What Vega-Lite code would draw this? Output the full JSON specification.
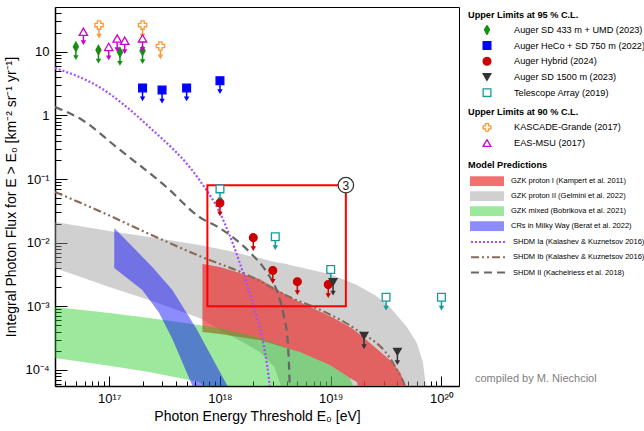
{
 "$schema": "https://vega.github.io/schema/vega-lite/v6.json",
 "width": 404, "height": 379,
 "autosize": {"type": "none"},
 "padding": {"left": 55, "top": 7, "right": 185, "bottom": 45},
 "background": "white",
 "title": {"text": "compiled by M. Niechciol", "orient": "bottom", "anchor": "start", "frame": "group", "dx": 420, "dy": -54, "font": "Liberation Sans", "fontSize": 11, "fontWeight": "normal", "color": "#808080"},
 "config": {
  "view": {"stroke": "black", "strokeWidth": 1},
  "font": "Liberation Sans",
  "axis": {"domainColor": "black", "domainWidth": 1.5, "tickColor": "black", "tickWidth": 1, "labelFont": "Liberation Sans", "labelFontSize": 13, "labelColor": "black", "titleFont": "Liberation Sans", "titleFontSize": 14, "titleFontWeight": "normal", "titleColor": "black", "grid": false, "labelOverlap": false, "labelFlush": false, "labelBound": false},
  "legend": {"orient": "none", "padding": 0, "titleFont": "Liberation Sans", "titleFontSize": 9.2, "titleFontWeight": "bold", "titleColor": "black", "labelFont": "Liberation Sans", "labelFontSize": 9.2, "labelColor": "black", "labelLimit": 300, "titleLimit": 300}
 },
 "datasets": {
  "bands": [
   {"model": "GZK proton II (Gelmini et al. 2022)", "E": 3.24e16, "hi": 0.0211, "lo": 0.004},
   {"model": "GZK proton II (Gelmini et al. 2022)", "E": 1e17, "hi": 0.01524, "lo": 0.00201},
   {"model": "GZK proton II (Gelmini et al. 2022)", "E": 2.3e17, "hi": 0.01227, "lo": 0.00126},
   {"model": "GZK proton II (Gelmini et al. 2022)", "E": 6.52e17, "hi": 0.0092, "lo": 0.000656},
   {"model": "GZK proton II (Gelmini et al. 2022)", "E": 1.22e18, "hi": 0.00741, "lo": 0.000355},
   {"model": "GZK proton II (Gelmini et al. 2022)", "E": 1.85e18, "hi": 0.00618, "lo": 0.000238},
   {"model": "GZK proton II (Gelmini et al. 2022)", "E": 2.28e18, "hi": 0.00574, "lo": 0.000192},
   {"model": "GZK proton II (Gelmini et al. 2022)", "E": 3.11e18, "hi": 0.00497, "lo": 0.000111},
   {"model": "GZK proton II (Gelmini et al. 2022)", "E": 4.0e18, "hi": 0.00462, "lo": 0.00003},
   {"model": "GZK proton II (Gelmini et al. 2022)", "E": 4.26e18, "hi": 0.00446, "lo": 0.00001},
   {"model": "GZK proton II (Gelmini et al. 2022)", "E": 9.8e18, "hi": 0.00322, "lo": 0.00001},
   {"model": "GZK proton II (Gelmini et al. 2022)", "E": 1.72e19, "hi": 0.00216, "lo": 0.00001},
   {"model": "GZK proton II (Gelmini et al. 2022)", "E": 2.5e19, "hi": 0.00151, "lo": 0.00001},
   {"model": "GZK proton II (Gelmini et al. 2022)", "E": 3.42e19, "hi": 0.00098, "lo": 0.00001},
   {"model": "GZK proton II (Gelmini et al. 2022)", "E": 4.87e19, "hi": 0.000473, "lo": 0.00001},
   {"model": "GZK proton II (Gelmini et al. 2022)", "E": 6.0e19, "hi": 0.000265, "lo": 0.00001},
   {"model": "GZK proton II (Gelmini et al. 2022)", "E": 6.8e19, "hi": 0.000134, "lo": 0.00001},
   {"model": "GZK proton II (Gelmini et al. 2022)", "E": 7.55e19, "hi": 0.00003, "lo": 0.00001},
   {"model": "GZK proton I (Kampert et al. 2011)", "E": 6.95e17, "hi": 0.00462, "lo": 0.000395},
   {"model": "GZK proton I (Kampert et al. 2011)", "E": 1e18, "hi": 0.00415, "lo": 0.000367},
   {"model": "GZK proton I (Kampert et al. 2011)", "E": 2.28e18, "hi": 0.00269, "lo": 0.000296},
   {"model": "GZK proton I (Kampert et al. 2011)", "E": 4.26e18, "hi": 0.0014, "lo": 0.000214},
   {"model": "GZK proton I (Kampert et al. 2011)", "E": 5.24e18, "hi": 0.00117, "lo": 0.000192},
   {"model": "GZK proton I (Kampert et al. 2011)", "E": 9.8e18, "hi": 0.000705, "lo": 0.00012},
   {"model": "GZK proton I (Kampert et al. 2011)", "E": 1.49e19, "hi": 0.000473, "lo": 0.0000748},
   {"model": "GZK proton I (Kampert et al. 2011)", "E": 1.72e19, "hi": 0.000395, "lo": 0.0000647},
   {"model": "GZK proton I (Kampert et al. 2011)", "E": 1.91e19, "hi": 0.000342, "lo": 0.00003},
   {"model": "GZK proton I (Kampert et al. 2011)", "E": 3.42e19, "hi": 0.000143, "lo": 0.00001},
   {"model": "GZK proton I (Kampert et al. 2011)", "E": 4.21e19, "hi": 0.000093, "lo": 0.00001},
   {"model": "GZK proton I (Kampert et al. 2011)", "E": 5.19e19, "hi": 0.00004, "lo": 0.00001},
   {"model": "GZK mixed (Bobrikova et al. 2021)", "E": 3.24e16, "hi": 0.00098, "lo": 0.000154},
   {"model": "GZK mixed (Bobrikova et al. 2021)", "E": 1e17, "hi": 0.000787, "lo": 0.000116},
   {"model": "GZK mixed (Bobrikova et al. 2021)", "E": 2.3e17, "hi": 0.000656, "lo": 0.000093},
   {"model": "GZK mixed (Bobrikova et al. 2021)", "E": 6.52e17, "hi": 0.000509, "lo": 0.0000647},
   {"model": "GZK mixed (Bobrikova et al. 2021)", "E": 1.08e18, "hi": 0.000441, "lo": 0.00003},
   {"model": "GZK mixed (Bobrikova et al. 2021)", "E": 2.28e18, "hi": 0.000318, "lo": 0.00001},
   {"model": "GZK mixed (Bobrikova et al. 2021)", "E": 5.24e18, "hi": 0.000192, "lo": 0.00001},
   {"model": "GZK mixed (Bobrikova et al. 2021)", "E": 9.8e18, "hi": 0.00012, "lo": 0.00001},
   {"model": "GZK mixed (Bobrikova et al. 2021)", "E": 1.49e19, "hi": 0.0000748, "lo": 0.00001},
   {"model": "GZK mixed (Bobrikova et al. 2021)", "E": 1.72e19, "hi": 0.00004, "lo": 0.00001},
   {"model": "CRs in Milky Way (Berat et al. 2022)", "E": 1.11e17, "hi": 0.017, "lo": 0.004},
   {"model": "CRs in Milky Way (Berat et al. 2022)", "E": 1.99e17, "hi": 0.00603, "lo": 0.0018},
   {"model": "CRs in Milky Way (Berat et al. 2022)", "E": 2.45e17, "hi": 0.00415, "lo": 0.00111},
   {"model": "CRs in Milky Way (Berat et al. 2022)", "E": 2.83e17, "hi": 0.0031, "lo": 0.000787},
   {"model": "CRs in Milky Way (Berat et al. 2022)", "E": 3.72e17, "hi": 0.0018, "lo": 0.000307},
   {"model": "CRs in Milky Way (Berat et al. 2022)", "E": 6.13e17, "hi": 0.000444, "lo": 0.00004},
   {"model": "CRs in Milky Way (Berat et al. 2022)", "E": 1.3e18, "hi": 0.00004, "lo": 0.00001}
  ],
  "lines": [
   {"model": "SHDM Ia (Kalashev & Kuznetsov 2016)", "E": 3.24e16, "F": 5.55},
   {"model": "SHDM Ia (Kalashev & Kuznetsov 2016)", "E": 8.12e16, "F": 2.79},
   {"model": "SHDM Ia (Kalashev & Kuznetsov 2016)", "E": 2.3e17, "F": 0.656},
   {"model": "SHDM Ia (Kalashev & Kuznetsov 2016)", "E": 6.52e17, "F": 0.0966},
   {"model": "SHDM Ia (Kalashev & Kuznetsov 2016)", "E": 9.9e17, "F": 0.0303},
   {"model": "SHDM Ia (Kalashev & Kuznetsov 2016)", "E": 1.5e18, "F": 0.00497},
   {"model": "SHDM Ia (Kalashev & Kuznetsov 2016)", "E": 2.05e18, "F": 0.000877},
   {"model": "SHDM Ia (Kalashev & Kuznetsov 2016)", "E": 2.53e18, "F": 0.000206},
   {"model": "SHDM Ia (Kalashev & Kuznetsov 2016)", "E": 2.81e18, "F": 0.000056},
   {"model": "SHDM Ia (Kalashev & Kuznetsov 2016)", "E": 2.9e18, "F": 0.00003},
   {"model": "SHDM Ib (Kalashev & Kuznetsov 2016)", "E": 3.24e16, "F": 0.0625},
   {"model": "SHDM Ib (Kalashev & Kuznetsov 2016)", "E": 8.12e16, "F": 0.0315},
   {"model": "SHDM Ib (Kalashev & Kuznetsov 2016)", "E": 2.3e17, "F": 0.0137},
   {"model": "SHDM Ib (Kalashev & Kuznetsov 2016)", "E": 6.52e17, "F": 0.00618},
   {"model": "SHDM Ib (Kalashev & Kuznetsov 2016)", "E": 1.85e18, "F": 0.003},
   {"model": "SHDM Ib (Kalashev & Kuznetsov 2016)", "E": 4.26e18, "F": 0.0014},
   {"model": "SHDM Ib (Kalashev & Kuznetsov 2016)", "E": 8.46e18, "F": 0.000845},
   {"model": "SHDM Ib (Kalashev & Kuznetsov 2016)", "E": 1.72e19, "F": 0.000425},
   {"model": "SHDM Ib (Kalashev & Kuznetsov 2016)", "E": 3.42e19, "F": 0.000154},
   {"model": "SHDM Ib (Kalashev & Kuznetsov 2016)", "E": 4.21e19, "F": 0.000083},
   {"model": "SHDM Ib (Kalashev & Kuznetsov 2016)", "E": 4.67e19, "F": 0.000056},
   {"model": "SHDM Ib (Kalashev & Kuznetsov 2016)", "E": 4.9e19, "F": 0.00004},
   {"model": "SHDM II (Kachelriess et al. 2018)", "E": 3.24e16, "F": 1.35},
   {"model": "SHDM II (Kachelriess et al. 2018)", "E": 5.71e16, "F": 0.845},
   {"model": "SHDM II (Kachelriess et al. 2018)", "E": 1.16e17, "F": 0.318},
   {"model": "SHDM II (Kachelriess et al. 2018)", "E": 3.28e17, "F": 0.075},
   {"model": "SHDM II (Kachelriess et al. 2018)", "E": 6.52e17, "F": 0.0253},
   {"model": "SHDM II (Kachelriess et al. 2018)", "E": 9.9e17, "F": 0.017},
   {"model": "SHDM II (Kachelriess et al. 2018)", "E": 1.85e18, "F": 0.00714},
   {"model": "SHDM II (Kachelriess et al. 2018)", "E": 2.64e18, "F": 0.00346},
   {"model": "SHDM II (Kachelriess et al. 2018)", "E": 3.24e18, "F": 0.00181},
   {"model": "SHDM II (Kachelriess et al. 2018)", "E": 3.76e18, "F": 0.000731},
   {"model": "SHDM II (Kachelriess et al. 2018)", "E": 4.08e18, "F": 0.000296},
   {"model": "SHDM II (Kachelriess et al. 2018)", "E": 4.26e18, "F": 0.000056},
   {"model": "SHDM II (Kachelriess et al. 2018)", "E": 4.3e18, "F": 0.00003}
  ],
  "ul95": [
   {"exp": "Auger SD 433 m + UMD (2023)", "E": 5e16, "F": 12},
   {"exp": "Auger SD 433 m + UMD (2023)", "E": 8e16, "F": 10.6},
   {"exp": "Auger SD 433 m + UMD (2023)", "E": 1.25e17, "F": 9.8},
   {"exp": "Auger SD 433 m + UMD (2023)", "E": 2e17, "F": 10.4},
   {"exp": "Auger HeCo + SD 750 m (2022)", "E": 2e17, "F": 2.7},
   {"exp": "Auger HeCo + SD 750 m (2022)", "E": 3e17, "F": 2.5},
   {"exp": "Auger HeCo + SD 750 m (2022)", "E": 5e17, "F": 2.7},
   {"exp": "Auger HeCo + SD 750 m (2022)", "E": 1e18, "F": 3.5},
   {"exp": "Auger Hybrid (2024)", "E": 1e18, "F": 0.042},
   {"exp": "Auger Hybrid (2024)", "E": 2e18, "F": 0.012},
   {"exp": "Auger Hybrid (2024)", "E": 3e18, "F": 0.00366},
   {"exp": "Auger Hybrid (2024)", "E": 5e18, "F": 0.00244},
   {"exp": "Auger Hybrid (2024)", "E": 9.5e18, "F": 0.0022},
   {"exp": "Auger SD 1500 m (2023)", "E": 1.05e19, "F": 0.0024},
   {"exp": "Auger SD 1500 m (2023)", "E": 2e19, "F": 0.000346},
   {"exp": "Auger SD 1500 m (2023)", "E": 4e19, "F": 0.000194},
   {"exp": "Telescope Array (2019)", "E": 1e18, "F": 0.07},
   {"exp": "Telescope Array (2019)", "E": 3.16e18, "F": 0.0124},
   {"exp": "Telescope Array (2019)", "E": 1e19, "F": 0.0038},
   {"exp": "Telescope Array (2019)", "E": 3.16e19, "F": 0.00139},
   {"exp": "Telescope Array (2019)", "E": 1e20, "F": 0.00139}
  ],
  "ul90": [
   {"exp": "KASCADE-Grande (2017)", "E": 8.1e16, "F": 26.2},
   {"exp": "KASCADE-Grande (2017)", "E": 2e17, "F": 26.2},
   {"exp": "KASCADE-Grande (2017)", "E": 2.9e17, "F": 12.3},
   {"exp": "EAS-MSU (2017)", "E": 5.85e16, "F": 20.6},
   {"exp": "EAS-MSU (2017)", "E": 9.9e16, "F": 11.9},
   {"exp": "EAS-MSU (2017)", "E": 1.18e17, "F": 16.1},
   {"exp": "EAS-MSU (2017)", "E": 1.38e17, "F": 14.9},
   {"exp": "EAS-MSU (2017)", "E": 2e17, "F": 16.2}
  ]
 },
 "resolve": {"scale": {"fill": "independent", "stroke": "independent", "shape": "independent", "color": "independent", "strokeDash": "independent"}, "axis": {"x": "independent", "y": "independent"}},
 "layer": [
  {
   "data": {"name": "bands"},
   "resolve": {"axis": {"x": "independent", "y": "independent"}},
   "layer": [
    {"transform": [{"filter": "datum.model == 'GZK proton II (Gelmini et al. 2022)'"}],
     "mark": {"type": "area", "clip": true, "opacity": 1, "interpolate": "linear"},
     "encoding": {
      "x": {"field": "E", "type": "quantitative", "scale": {"type": "log", "domain": [3.24e16, 1.44e20], "nice": false},
       "axis": {"orient": "bottom", "title": "Photon Energy Threshold E₀ [eV]",
        "values": [1e17, 1e18, 1e19, 1e20],
        "labelExpr": "datum.value > 0.99e17 && datum.value < 1.01e17 ? '10¹⁷' : datum.value > 0.99e18 && datum.value < 1.01e18 ? '10¹⁸' : datum.value > 0.99e19 && datum.value < 1.01e19 ? '10¹⁹' : '10²⁰'",
        "tickSize": -10, "labelPadding": 16, "titlePadding": 4}},
      "y": {"field": "hi", "type": "quantitative", "stack": null, "scale": {"type": "log", "domain": [5.6e-5, 50.4], "nice": false},
       "axis": {"orient": "left", "title": "Integral Photon Flux for E > E₀ [km⁻² sr⁻¹ yr⁻¹]",
        "values": [1e-4, 1e-3, 1e-2, 0.1, 1, 10],
        "labelExpr": "datum.value > 0.99e-4 && datum.value < 1.01e-4 ? '10⁻⁴' : datum.value > 0.99e-3 && datum.value < 1.01e-3 ? '10⁻³' : datum.value > 0.99e-2 && datum.value < 1.01e-2 ? '10⁻²' : datum.value > 0.099 && datum.value < 0.101 ? '10⁻¹' : datum.value > 0.99 && datum.value < 1.01 ? '1' : '10'",
        "tickSize": -12, "labelPadding": 18, "titlePadding": 6}},
      "y2": {"field": "lo"},
      "fill": {"field": "model", "type": "nominal",
       "scale": {"domain": ["GZK proton I (Kampert et al. 2011)", "GZK proton II (Gelmini et al. 2022)", "GZK mixed (Bobrikova et al. 2021)", "CRs in Milky Way (Berat et al. 2022)"],
        "range": ["rgba(235,45,45,0.68)", "rgba(150,150,150,0.45)", "rgba(20,200,20,0.42)", "rgba(0,0,255,0.45)"]},
       "legend": {"title": "Model Predictions", "legendX": 413, "legendY": 154, "symbolType": "M-1,-0.3H1V0.3H-1Z", "symbolSize": 1156, "clipHeight": 10, "symbolOffset": 2, "labelOffset": 7, "rowPadding": 5, "titlePadding": 6, "labelFontSize": 7.5, "symbolStrokeWidth": 0}}
     }},
    {"transform": [{"filter": "datum.model == 'GZK proton I (Kampert et al. 2011)'"}],
     "mark": {"type": "area", "clip": true, "opacity": 1, "interpolate": "linear"},
     "encoding": {
      "x": {"field": "E", "type": "quantitative",
       "axis": {"orient": "bottom", "title": null, "labels": false, "domain": false, "tickSize": -5,
        "values": [4e16,5e16,6e16,7e16,8e16,9e16,2e17,3e17,4e17,5e17,6e17,7e17,8e17,9e17,2e18,3e18,4e18,5e18,6e18,7e18,8e18,9e18,2e19,3e19,4e19,5e19,6e19,7e19,8e19,9e19]}},
      "y": {"field": "hi", "type": "quantitative", "stack": null,
       "axis": {"orient": "left", "title": null, "labels": false, "domain": false, "tickSize": -6,
        "values": [6e-5,7e-5,8e-5,9e-5,2e-4,3e-4,4e-4,5e-4,6e-4,7e-4,8e-4,9e-4,2e-3,3e-3,4e-3,5e-3,6e-3,7e-3,8e-3,9e-3,0.02,0.03,0.04,0.05,0.06,0.07,0.08,0.09,0.2,0.3,0.4,0.5,0.6,0.7,0.8,0.9,2,3,4,5,6,7,8,9,20,30,40]}},
      "y2": {"field": "lo"}, "fill": {"field": "model", "type": "nominal"}}},
    {"transform": [{"filter": "datum.model == 'GZK mixed (Bobrikova et al. 2021)'"}],
     "mark": {"type": "area", "clip": true, "opacity": 1, "interpolate": "linear"},
     "encoding": {"x": {"field": "E", "type": "quantitative", "axis": null}, "y": {"field": "hi", "type": "quantitative", "stack": null, "axis": null}, "y2": {"field": "lo"}, "fill": {"field": "model", "type": "nominal"}}},
    {"transform": [{"filter": "datum.model == 'CRs in Milky Way (Berat et al. 2022)'"}],
     "mark": {"type": "area", "clip": true, "opacity": 1, "interpolate": "linear"},
     "encoding": {"x": {"field": "E", "type": "quantitative", "axis": null}, "y": {"field": "hi", "type": "quantitative", "stack": null, "axis": null}, "y2": {"field": "lo"}, "fill": {"field": "model", "type": "nominal"}}}
   ]
  },
  {
   "data": {"name": "lines"},
   "mark": {"type": "line", "clip": true, "strokeWidth": 2.2, "interpolate": "monotone"},
   "encoding": {
    "x": {"field": "E", "type": "quantitative", "axis": null},
    "y": {"field": "F", "type": "quantitative", "axis": null},
    "stroke": {"field": "model", "type": "nominal",
     "scale": {"domain": ["SHDM Ia (Kalashev & Kuznetsov 2016)", "SHDM Ib (Kalashev & Kuznetsov 2016)", "SHDM II (Kachelriess et al. 2018)"], "range": ["#a64dff", "#8a6a5c", "#666666"]},
     "legend": {"title": null, "legendX": 413, "legendY": 230, "symbolType": "stroke", "symbolSize": 1156, "clipHeight": 10, "symbolStrokeWidth": 2, "symbolOffset": 2, "labelOffset": 7, "rowPadding": 5.3, "labelFontSize": 7.5}},
    "strokeDash": {"field": "model", "type": "nominal",
     "scale": {"domain": ["SHDM Ia (Kalashev & Kuznetsov 2016)", "SHDM Ib (Kalashev & Kuznetsov 2016)", "SHDM II (Kachelriess et al. 2018)"], "range": [[2, 2], [8, 3, 2, 3, 2, 3], [8, 5]]},
     "legend": {"title": null, "legendX": 413, "legendY": 230, "symbolType": "stroke", "symbolSize": 1156, "clipHeight": 10, "symbolStrokeWidth": 2, "symbolOffset": 2, "labelOffset": 7, "rowPadding": 5.3, "labelFontSize": 7.5}}
   }
  },
  {
   "data": {"values": [{"E1": 7.7e17, "E2": 1.37e19, "F1": 0.001, "F2": 0.08}]},
   "mark": {"type": "rect", "filled": false, "stroke": "#ff0000", "strokeWidth": 2, "opacity": 1},
   "encoding": {"x": {"field": "E1", "type": "quantitative", "axis": null}, "x2": {"field": "E2"}, "y": {"field": "F1", "type": "quantitative", "axis": null}, "y2": {"field": "F2"}}
  },
  {
   "data": {"name": "ul95"},
   "layer": [
    {"mark": {"type": "rule", "strokeWidth": 1.5, "y2Offset": 11},
     "encoding": {"x": {"field": "E", "type": "quantitative", "axis": null}, "y": {"field": "F", "type": "quantitative", "axis": null}, "y2": {"field": "F"}, "color": {"field": "exp", "type": "nominal", "legend": null}}},
    {"mark": {"type": "point", "shape": "triangle-down", "filled": true, "size": 30, "yOffset": 11, "opacity": 1},
     "encoding": {"x": {"field": "E", "type": "quantitative", "axis": null}, "y": {"field": "F", "type": "quantitative", "axis": null},
      "color": {"field": "exp", "type": "nominal", "scale": {"domain": ["Telescope Array (2019)", "Auger SD 1500 m (2023)", "Auger Hybrid (2024)", "Auger HeCo + SD 750 m (2022)", "Auger SD 433 m + UMD (2023)"], "range": ["#169b9b", "#333333", "#cc0000", "#0000ff", "#149014"]}, "legend": null}}},
    {"mark": {"type": "point", "size": 60, "strokeWidth": 1.3, "opacity": 1},
     "encoding": {"x": {"field": "E", "type": "quantitative", "axis": null}, "y": {"field": "F", "type": "quantitative", "axis": null},
      "shape": {"field": "exp", "type": "nominal", "scale": {"domain": ["Auger SD 433 m + UMD (2023)", "Auger HeCo + SD 750 m (2022)", "Auger Hybrid (2024)", "Auger SD 1500 m (2023)", "Telescope Array (2019)"], "range": ["M0,-1.2L0.65,0L0,1.2L-0.65,0Z", "square", "circle", "triangle-down", "square"]},
       "legend": {"title": "Upper Limits at 95 % C.L.", "legendX": 413, "legendY": 3.5, "symbolSize": 60, "clipHeight": 9.3, "symbolOffset": 14, "labelOffset": 22, "rowPadding": 5.7, "titlePadding": 5.5, "symbolStrokeWidth": 1.3}},
      "fill": {"field": "exp", "type": "nominal", "scale": {"domain": ["Auger SD 433 m + UMD (2023)", "Auger HeCo + SD 750 m (2022)", "Auger Hybrid (2024)", "Auger SD 1500 m (2023)", "Telescope Array (2019)"], "range": ["#149014", "#0000ff", "#cc0000", "#333333", "#ffffff"]},
       "legend": {"title": "Upper Limits at 95 % C.L.", "legendX": 413, "legendY": 3.5, "symbolSize": 60, "clipHeight": 9.3, "symbolOffset": 14, "labelOffset": 22, "rowPadding": 5.7, "titlePadding": 5.5, "symbolStrokeWidth": 1.3}},
      "stroke": {"field": "exp", "type": "nominal", "scale": {"domain": ["Auger SD 433 m + UMD (2023)", "Auger HeCo + SD 750 m (2022)", "Auger Hybrid (2024)", "Auger SD 1500 m (2023)", "Telescope Array (2019)"], "range": ["#149014", "#0000ff", "#cc0000", "#333333", "#169b9b"]},
       "legend": {"title": "Upper Limits at 95 % C.L.", "legendX": 413, "legendY": 3.5, "symbolSize": 60, "clipHeight": 9.3, "symbolOffset": 14, "labelOffset": 22, "rowPadding": 5.7, "titlePadding": 5.5, "symbolStrokeWidth": 1.3}}
     }}
   ]
  },
  {
   "data": {"name": "ul90"},
   "layer": [
    {"mark": {"type": "rule", "strokeWidth": 1.5, "y2Offset": 11},
     "encoding": {"x": {"field": "E", "type": "quantitative", "axis": null}, "y": {"field": "F", "type": "quantitative", "axis": null}, "y2": {"field": "F"}, "color": {"field": "exp", "type": "nominal", "legend": null}}},
    {"mark": {"type": "point", "shape": "triangle-down", "filled": true, "size": 30, "yOffset": 11, "opacity": 1},
     "encoding": {"x": {"field": "E", "type": "quantitative", "axis": null}, "y": {"field": "F", "type": "quantitative", "axis": null},
      "color": {"field": "exp", "type": "nominal", "scale": {"domain": ["EAS-MSU (2017)", "KASCADE-Grande (2017)"], "range": ["#cc00cc", "#ff9933"]}, "legend": null}}},
    {"mark": {"type": "point", "size": 70, "strokeWidth": 1.3, "opacity": 1},
     "encoding": {"x": {"field": "E", "type": "quantitative", "axis": null}, "y": {"field": "F", "type": "quantitative", "axis": null},
      "shape": {"field": "exp", "type": "nominal", "scale": {"domain": ["KASCADE-Grande (2017)", "EAS-MSU (2017)"], "range": ["cross", "triangle-up"]},
       "legend": {"title": "Upper Limits at 90 % C.L.", "legendX": 413, "legendY": 101, "symbolSize": 60, "clipHeight": 9.3, "symbolOffset": 14, "labelOffset": 22, "rowPadding": 5.7, "titlePadding": 5.5, "symbolStrokeWidth": 1.3}},
      "fill": {"field": "exp", "type": "nominal", "scale": {"domain": ["KASCADE-Grande (2017)", "EAS-MSU (2017)"], "range": ["#ffffff", "#ffffff"]},
       "legend": {"title": "Upper Limits at 90 % C.L.", "legendX": 413, "legendY": 101, "symbolSize": 60, "clipHeight": 9.3, "symbolOffset": 14, "labelOffset": 22, "rowPadding": 5.7, "titlePadding": 5.5, "symbolStrokeWidth": 1.3}},
      "stroke": {"field": "exp", "type": "nominal", "scale": {"domain": ["KASCADE-Grande (2017)", "EAS-MSU (2017)"], "range": ["#ff9933", "#cc00cc"]},
       "legend": {"title": "Upper Limits at 90 % C.L.", "legendX": 413, "legendY": 101, "symbolSize": 60, "clipHeight": 9.3, "symbolOffset": 14, "labelOffset": 22, "rowPadding": 5.7, "titlePadding": 5.5, "symbolStrokeWidth": 1.3}}
     }}
   ]
  },
  {
   "data": {"values": [{"E": 1.37e19, "F": 0.08, "label": "3"}]},
   "layer": [
    {"mark": {"type": "point", "shape": "circle", "size": 240, "filled": true, "fill": "white", "stroke": "#333333", "strokeWidth": 1.3, "opacity": 1},
     "encoding": {"x": {"field": "E", "type": "quantitative", "axis": null}, "y": {"field": "F", "type": "quantitative", "axis": null}}},
    {"mark": {"type": "text", "font": "Liberation Sans", "fontSize": 12, "color": "#222222", "align": "center", "baseline": "middle", "dy": 0.5},
     "encoding": {"x": {"field": "E", "type": "quantitative", "axis": null}, "y": {"field": "F", "type": "quantitative", "axis": null}, "text": {"field": "label"}}}
   ]
  }
 ]
}
